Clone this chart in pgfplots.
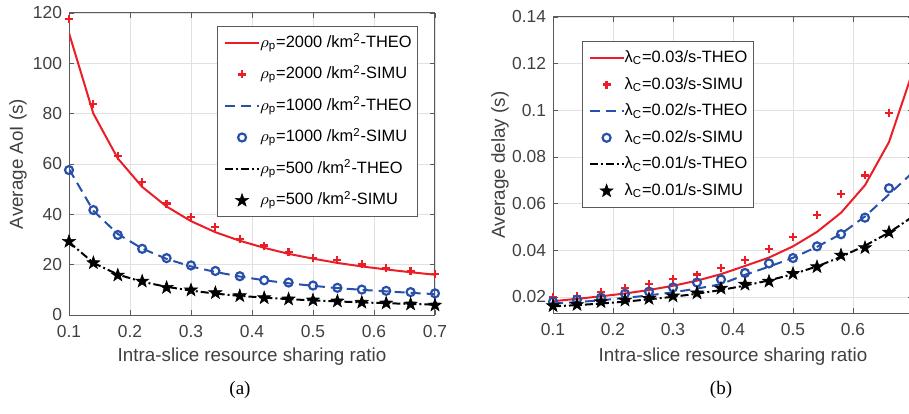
\documentclass[border=0pt]{standalone}
\usepackage{pgfplots}
\pgfplotsset{compat=1.18}
\usepackage{pgfplotstable}
\usepackage{fontspec}
\setmainfont{Liberation Sans}
\newfontfamily\timesfont{Liberation Serif}

\definecolor{mred}{RGB}{235,30,40}
\definecolor{mblue}{RGB}{40,80,170}
\definecolor{axgray}{RGB}{90,90,90}
\definecolor{txtgray}{RGB}{64,64,64}
\definecolor{gridgray}{RGB}{225,225,225}

\pgfdeclareplotmark{fstar}{%
  \pgfpathmoveto{\pgfpointpolar{90}{\pgfplotmarksize}}%
  \pgfpathlineto{\pgfpointpolar{126}{0.4\pgfplotmarksize}}%
  \pgfpathlineto{\pgfpointpolar{162}{\pgfplotmarksize}}%
  \pgfpathlineto{\pgfpointpolar{198}{0.4\pgfplotmarksize}}%
  \pgfpathlineto{\pgfpointpolar{234}{\pgfplotmarksize}}%
  \pgfpathlineto{\pgfpointpolar{270}{0.4\pgfplotmarksize}}%
  \pgfpathlineto{\pgfpointpolar{306}{\pgfplotmarksize}}%
  \pgfpathlineto{\pgfpointpolar{342}{0.4\pgfplotmarksize}}%
  \pgfpathlineto{\pgfpointpolar{18}{\pgfplotmarksize}}%
  \pgfpathlineto{\pgfpointpolar{54}{0.4\pgfplotmarksize}}%
  \pgfpathclose
  \pgfusepathqfillstroke
}

\pgfplotstableread{
x    rT    rS    bT   bS   kT   kS
0.10 112.0 117.5 58.0 57.6 29.0 29.2
0.14 80.0  83.9  41.4 41.7 20.7 20.7
0.18 62.2  63.3  32.2 31.8 16.1 15.8
0.22 50.9  52.8  26.4 26.3 13.2 13.4
0.26 43.1  44.3  22.3 22.6 11.2 10.9
0.30 37.3  38.8  19.3 19.7 9.7  9.9
0.34 32.9  35.1  17.1 17.5 8.5  8.8
0.38 29.5  30.3  15.3 15.4 7.6  7.6
0.42 26.7  27.6  13.8 13.8 6.9  6.8
0.46 24.3  25.0  12.6 12.9 6.3  6.3
0.50 22.4  22.8  11.6 11.7 5.8  5.9
0.54 20.7  21.7  10.7 10.8 5.4  5.5
0.58 19.3  20.1  10.0 10.1 5.0  5.0
0.62 18.1  18.7  9.4  9.6  4.7  4.7
0.66 17.0  17.5  8.8  9.1  4.4  4.3
0.70 16.0  16.4  8.3  8.6  4.1  3.9
}\aoi

\pgfplotstableread{
x    rT     bT     kT
0.10 0.0182 0.0172 0.0160
0.14 0.0192 0.0178 0.0165
0.18 0.0203 0.0186 0.0172
0.22 0.0215 0.0196 0.0180
0.26 0.0230 0.0207 0.0190
0.30 0.0248 0.0220 0.0201
0.34 0.0270 0.0236 0.0214
0.38 0.0298 0.0255 0.0230
0.42 0.0333 0.0295 0.0249
0.46 0.0369 0.0330 0.0271
0.50 0.0417 0.0368 0.0298
0.54 0.0479 0.0415 0.0331
0.58 0.0561 0.0470 0.0372
0.62 0.0679 0.0545 0.0420
0.66 0.0864 0.0640 0.0476
0.70 0.1170 0.0735 0.0545
}\delayT

\pgfplotstableread{
x    rS     bS     kS
0.10 0.0199 0.0180 0.0162
0.14 0.0204 0.0189 0.0167
0.18 0.0220 0.0197 0.0179
0.22 0.0237 0.0214 0.0186
0.26 0.0254 0.0223 0.0193
0.30 0.0277 0.0241 0.0204
0.34 0.0296 0.0262 0.0217
0.38 0.0323 0.0275 0.0237
0.42 0.0357 0.0303 0.0254
0.46 0.0404 0.0344 0.0267
0.50 0.0457 0.0367 0.0300
0.54 0.0553 0.0417 0.0329
0.58 0.0643 0.0469 0.0379
0.62 0.0721 0.0540 0.0411
0.66 0.0990 0.0666 0.0477
}\delayS

\pgfplotsset{
  mystyle/.style={
    scale only axis,
    axis line style={axgray, line width=0.5pt},
    tick style={axgray, line width=0.4pt},
    tick align=inside,
    major tick length=2.5pt,
    grid=major,
    major grid style={gridgray, line width=0.4pt},
    tick label style={font=\fontsize{8.7}{10}\selectfont, text=txtgray},
    xticklabel style={yshift=-1.5pt},
    label style={font=\fontsize{9.4}{11}\selectfont, text=txtgray},
    /pgf/number format/assume math mode=true,
    legend cell align=left,
    legend style={font=\fontsize{8.2}{9}\selectfont, draw=axgray, line width=0.5pt,
      text=black, inner sep=3pt,
      nodes={inner sep=0pt, text height=7.5pt, text depth=3pt}},
    theo red/.style={mred, line width=1pt, no marks},
    theo blue/.style={mblue, line width=1pt, no marks, dash pattern=on 5pt off 3pt},
    theo black/.style={black, line width=1pt, no marks, dash pattern=on 4pt off 1.5pt on 1pt off 1.5pt},
    simu red/.style={mred, only marks, mark=+, mark size=2pt, mark options={line width=1.1pt}},
    simu blue/.style={mblue, only marks, mark=o, mark size=2pt, mark options={line width=1.1pt}},
    simu black/.style={black, only marks, mark=fstar, mark size=3.4pt, mark options={line width=0.3pt, fill=black}},
  }
}

\begin{document}
\begin{tikzpicture}
\useasboundingbox (0,0) rectangle (454.5pt,206.5pt);

\begin{axis}[mystyle,
  at={(34.5pt,49pt)}, anchor=south west,
  width=183pt, height=151pt,
  xmin=0.1, xmax=0.7, ymin=0, ymax=120,
  xtick={0.1,0.2,0.3,0.4,0.5,0.6,0.7},
  ytick={0,20,40,60,80,100,120},
  xticklabel style={/pgf/number format/fixed, /pgf/number format/precision=1},
  xlabel={Intra-slice resource sharing ratio},
  ylabel={Average AoI (s)},
  xlabel style={at={(axis description cs:0.5,-0.139)}, anchor=center},
  ylabel style={at={(axis description cs:-0.139,0.5)}, anchor=center},
  legend style={at={(0.954,0.957)}, anchor=north east, row sep=5.25pt},
]
\addplot[theo red] table[x=x, y=rT] {\aoi};
\addlegendentry{$\rho$\textsubscript{p}=2000 /km\textsuperscript{2}-THEO}
\addplot[simu red] table[x=x, y=rS] {\aoi};
\addlegendentry{$\rho$\textsubscript{p}=2000 /km\textsuperscript{2}-SIMU}
\addplot[theo blue] table[x=x, y=bT] {\aoi};
\addlegendentry{$\rho$\textsubscript{p}=1000 /km\textsuperscript{2}-THEO}
\addplot[simu blue] table[x=x, y=bS] {\aoi};
\addlegendentry{$\rho$\textsubscript{p}=1000 /km\textsuperscript{2}-SIMU}
\addplot[theo black] table[x=x, y=kT] {\aoi};
\addlegendentry{$\rho$\textsubscript{p}=500 /km\textsuperscript{2}-THEO}
\addplot[simu black] table[x=x, y=kS] {\aoi};
\addlegendentry{$\rho$\textsubscript{p}=500 /km\textsuperscript{2}-SIMU}
\end{axis}

\begin{axis}[mystyle,
  at={(276.5pt,50pt)}, anchor=south west,
  width=180pt, height=148pt,
  xmin=0.1, xmax=0.7, ymin=0.01314, ymax=0.14,
  xtick={0.1,0.2,0.3,0.4,0.5,0.6},
  ytick={0.02,0.04,0.06,0.08,0.1,0.12,0.14},
  scaled y ticks=false,
  xticklabel style={/pgf/number format/fixed, /pgf/number format/precision=1},
  yticklabel style={/pgf/number format/fixed, /pgf/number format/precision=2},
  xlabel={Intra-slice resource sharing ratio},
  ylabel={Average delay (s)},
  xlabel style={at={(axis description cs:0.5,-0.149)}, anchor=center},
  ylabel style={at={(axis description cs:-0.147,0.5)}, anchor=center},
  legend style={at={(0.0806,0.919)}, anchor=north west, row sep=2.8pt},
]
\addplot[theo red] table[x=x, y=rT] {\delayT};
\addlegendentry{λ\textsubscript{C}=0.03/s-THEO}
\addplot[simu red] table[x=x, y=rS] {\delayS};
\addlegendentry{λ\textsubscript{C}=0.03/s-SIMU}
\addplot[theo blue] table[x=x, y=bT] {\delayT};
\addlegendentry{λ\textsubscript{C}=0.02/s-THEO}
\addplot[simu blue] table[x=x, y=bS] {\delayS};
\addlegendentry{λ\textsubscript{C}=0.02/s-SIMU}
\addplot[theo black] table[x=x, y=kT] {\delayT};
\addlegendentry{λ\textsubscript{C}=0.01/s-THEO}
\addplot[simu black] table[x=x, y=kS] {\delayS};
\addlegendentry{λ\textsubscript{C}=0.01/s-SIMU}
\end{axis}

\node[font=\timesfont\fontsize{9.5}{11}\selectfont] at (120pt,11.5pt) {(a)};
\node[font=\timesfont\fontsize{9.5}{11}\selectfont] at (360.5pt,11.5pt) {(b)};
\end{tikzpicture}
\end{document}
